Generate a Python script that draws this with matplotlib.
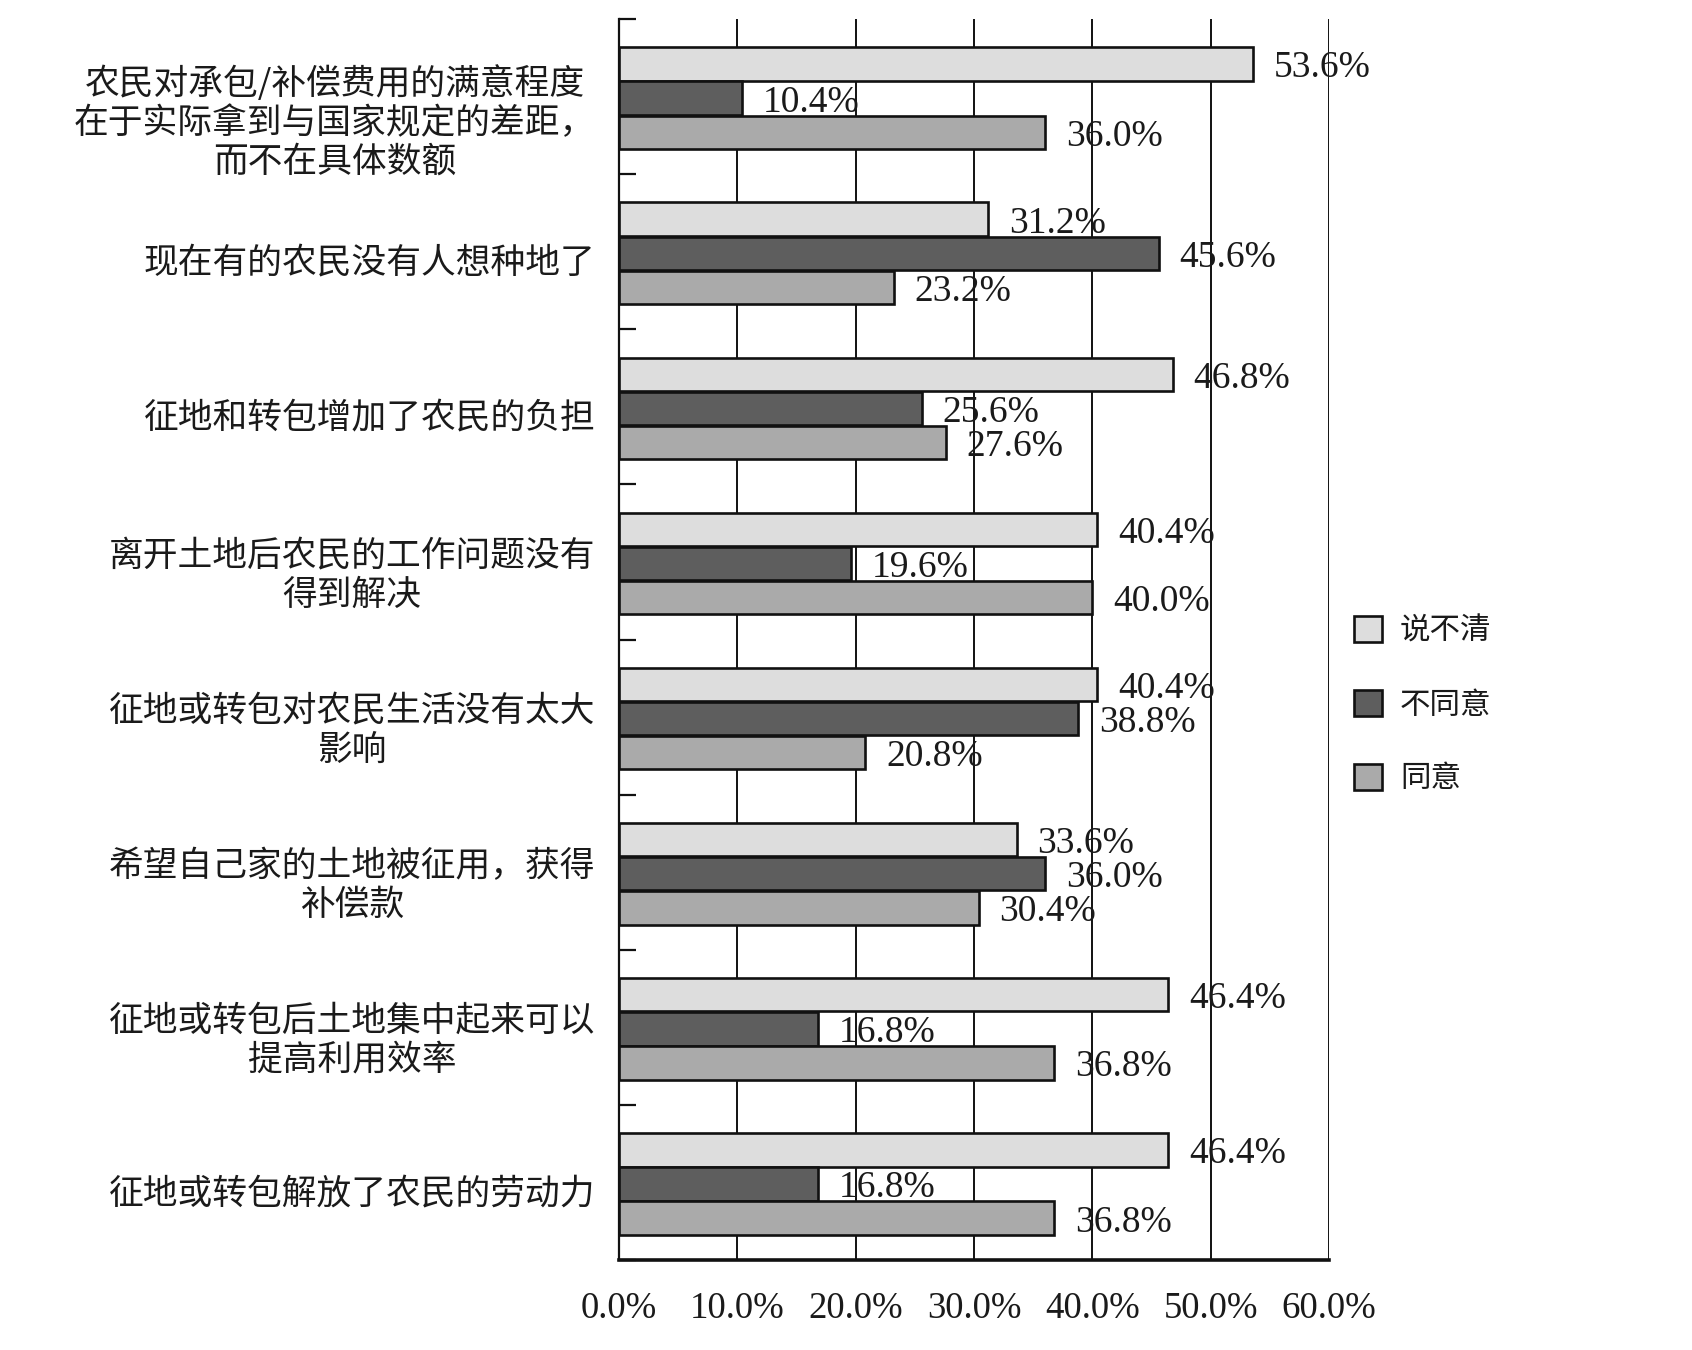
import numpy as np
import matplotlib
matplotlib.use("Agg")
import matplotlib.pyplot as plt
import matplotlib.transforms as mtransforms

plt.rcParams['font.family'] = ['Noto Sans CJK SC', 'DejaVu Sans']

# data, top to bottom
categories = [
    "农民对承包/补偿费用的满意程度\n在于实际拿到与国家规定的差距，\n而不在具体数额",
    "现在有的农民没有人想种地了",
    "征地和转包增加了农民的负担",
    "离开土地后农民的工作问题没有\n得到解决",
    "征地或转包对农民生活没有太大\n影响",
    "希望自己家的土地被征用，获得\n补偿款",
    "征地或转包后土地集中起来可以\n提高利用效率",
    "征地或转包解放了农民的劳动力",
]
series_names = ["说不清", "不同意", "同意"]
unclear = [53.6, 31.2, 46.8, 40.4, 40.4, 33.6, 46.4, 46.4]
disagree = [10.4, 45.6, 25.6, 19.6, 38.8, 36.0, 16.8, 16.8]
agree = [36.0, 23.2, 27.6, 40.0, 20.8, 30.4, 36.8, 36.8]
x_ticks = [0, 10, 20, 30, 40, 50, 60]

colors = ["#dddddd", "#5e5e5e", "#aaaaaa"]
serif = ['Liberation Serif', 'DejaVu Serif']
txt_color = "#1a1a1a"

fig = plt.figure(figsize=(16.92, 13.5), dpi=100)
ax = fig.add_axes([619 / 1692, 1 - 1260 / 1350, 710 / 1692, 1241 / 1350])

y = np.arange(len(categories))
h = 0.215
offsets = [-0.21, 0.01, 0.23]
all_vals = [unclear, disagree, agree]

label_off = mtransforms.offset_copy(ax.transData, fig=fig, x=15, y=-3, units='points')
for vals, off, col, name in zip(all_vals, offsets, colors, series_names):
    ax.barh(y + off, vals, height=h, color=col, edgecolor="#111111",
            linewidth=1.9, label=name, zorder=3)
    for yi, v in zip(y + off, vals):
        ax.text(v, yi, "%.1f%%" % v, transform=label_off, va='center', ha='left',
                family=serif, fontsize=27, color=txt_color, zorder=4)

ax.set_xlim(0, 60)
ax.set_ylim(len(categories) - 0.5, -0.5)

ax.set_xticks(x_ticks)
ax.set_xticklabels(["%.1f%%" % t for t in x_ticks], family=serif, fontsize=26.5,
                   color=txt_color)
ax.tick_params(axis='x', length=0, pad=23)
ax.grid(axis='x', color="#111111", linewidth=1.4, zorder=0)
ax.set_axisbelow(True)

# boundary ticks on the left, labels at the group centres
ax.set_yticks(np.arange(len(categories) + 1) - 0.5)
ax.set_yticklabels([])
ax.tick_params(axis='y', which='major', direction='in', length=12, width=1.6,
               color="#111111")
ax.set_yticks(y + 0.05, minor=True)
ax.set_yticklabels(categories, minor=True, fontsize=25, color=txt_color,
                   multialignment='center', linespacing=1.14)
ax.tick_params(axis='y', which='minor', length=0, pad=17)
# first label sits a bit lower in the original
first = ax.yaxis.get_minor_ticks()[0].label1
first.set_transform(first.get_transform() +
                    mtransforms.ScaledTranslation(0, -9 / 72, fig.dpi_scale_trans))

for s in ['top', 'right']:
    ax.spines[s].set_visible(False)
ax.spines['left'].set_linewidth(1.6)
ax.spines['bottom'].set_linewidth(2.6)
ax.spines['left'].set_color("#111111")
ax.spines['bottom'].set_color("#111111")

leg = fig.legend(loc='center left', bbox_to_anchor=(1326 / 1692, 1 - 705 / 1350),
                 frameon=False, fontsize=22, handlelength=0.92, handleheight=0.92,
                 labelspacing=1.4, handletextpad=0.6)
for t in leg.get_texts():
    t.set_color(txt_color)

fig.savefig("out.png", dpi=100)
